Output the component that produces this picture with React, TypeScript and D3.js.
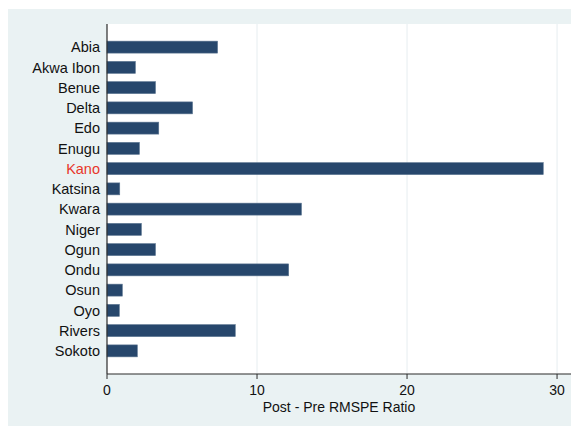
import React from "react";
import * as d3 from "d3";

// Post/pre-intervention RMSPE ratio by state
const states = [
  "Abia", "Akwa Ibon", "Benue", "Delta", "Edo", "Enugu", "Kano", "Katsina",
  "Kwara", "Niger", "Ogun", "Ondu", "Osun", "Oyo", "Rivers", "Sokoto",
];
const ratios = [
  7.37, 1.89, 3.23, 5.7, 3.45, 2.16, 29.08, 0.85,
  12.96, 2.29, 3.23, 12.11, 1.02, 0.82, 8.55, 2.02,
];
const xTicks = [0, 10, 20, 30];
const highlighted = "Kano";
const xTitle = "Post - Pre RMSPE Ratio";

const W = 571;
const H = 418;
const plot = { left: 99, right: 563, top: 16, bottom: 366 };
const FONT = "'Liberation Sans', Arial, Helvetica, sans-serif";

export default function App() {
  const x = d3.scaleLinear().domain([0, 30.93]).range([plot.left, plot.right]);
  const y = d3
    .scaleBand<string>()
    .domain(states)
    .range([plot.top + 13, plot.bottom - 13])
    .paddingInner(0.41)
    .paddingOuter(0.205);
  const bw = y.bandwidth();

  return (
    <svg width={W} height={H} style={{ display: "block" }} fontFamily={FONT}>
      <rect x={0} y={1} width={W} height={H - 1} fill="#eaf2f3" />
      <rect
        x={plot.left}
        y={plot.top}
        width={plot.right - plot.left}
        height={plot.bottom - plot.top}
        fill="#ffffff"
      />
      {xTicks
        .filter((t) => t > 0)
        .map((t) => (
          <line
            key={`g${t}`}
            x1={x(t)}
            x2={x(t)}
            y1={plot.top}
            y2={plot.bottom}
            stroke="#e6edf0"
            strokeWidth={1}
          />
        ))}
      {states.map((s, i) => (
        <rect
          key={s}
          x={x(0)}
          y={y(s)!}
          width={x(ratios[i]) - x(0)}
          height={bw}
          fill="#27476c"
          stroke="#59738f"
          strokeWidth={0.6}
        />
      ))}
      {/* axes */}
      <line
        x1={plot.left}
        x2={plot.left}
        y1={plot.top}
        y2={plot.bottom}
        stroke="#2a2a2a"
        strokeWidth={1.2}
      />
      <line
        x1={plot.left}
        x2={plot.right}
        y1={plot.bottom}
        y2={plot.bottom}
        stroke="#2a2a2a"
        strokeWidth={1.2}
      />
      {xTicks.map((t) => (
        <g key={`t${t}`}>
          <line
            x1={x(t)}
            x2={x(t)}
            y1={plot.bottom}
            y2={plot.bottom + 5}
            stroke="#2a2a2a"
            strokeWidth={1}
          />
          <text
            x={x(t)}
            y={plot.bottom + 21}
            textAnchor="middle"
            fontSize={14}
            fill="#111"
          >
            {t}
          </text>
        </g>
      ))}
      {states.map((s) => (
        <text
          key={`l${s}`}
          x={plot.left - 7}
          y={y(s)! + bw / 2}
          dy="0.36em"
          textAnchor="end"
          fontSize={14.5}
          fill={s === highlighted ? "#e8362a" : "#111"}
        >
          {s}
        </text>
      ))}
      <text
        x={(plot.left + plot.right) / 2}
        y={plot.bottom + 38}
        textAnchor="middle"
        fontSize={14}
        fill="#111"
      >
        {xTitle}
      </text>
    </svg>
  );
}
